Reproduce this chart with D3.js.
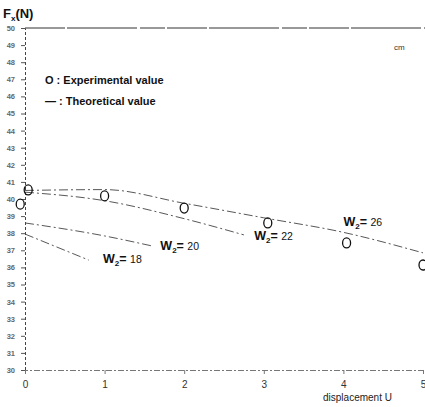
<!DOCTYPE html>
<html>
<head>
<meta charset="utf-8">
<script src="https://cdn.jsdelivr.net/npm/d3@7/dist/d3.min.js"></script>
<style>
  html, body { margin: 0; padding: 0; background: #fff; }
  svg { display: block; font-family: "Liberation Sans", Arial, sans-serif; }
</style>
</head>
<body>
<svg id="chart" width="425" height="407"></svg>
<script>
// Tick labels
const xTicks = [0, 1, 2, 3, 4, 5];
const yTicks = d3.range(30, 51);

// Measured points (displacement U in cm, force Fx in N)
const expU = [0.04, -0.06, 1, 2, 3.05, 4.04, 5];
const expF = [40.53, 39.7, 40.18, 39.47, 38.6, 37.43, 36.14];

// Theoretical curves, one per W2
const seriesW = [26, 22, 20, 18];
const curveU = [
  [0, 1, 2, 3, 4, 5],
  [0, 1, 2, 2.75],
  [0, 1, 1.6],
  [0, 0.8]
];
const curveF = [
  [40.5, 40.55, 39.75, 38.9, 38.05, 36.85],
  [40.4, 39.9, 38.85, 37.9],
  [38.6, 37.84, 37.25],
  [37.95, 36.43]
];
// where each W2 label sits (data coordinates)
const labelU = [4.0, 2.88, 1.7, 0.98];
const labelF = [38.4, 37.6, 37.0, 36.28];

const svg = d3.select("#chart");
const x = d3.scaleLinear().domain([0, 5]).range([25, 423]);
const y = d3.scaleLinear().domain([30, 50]).range([370, 28]);

// frame: top rule
svg.append("line")
  .attr("x1", x(0)).attr("x2", 425)
  .attr("y1", y(50)).attr("y2", y(50))
  .attr("stroke", "#333").attr("stroke-width", 1)
  .attr("stroke-dasharray", "40,2,70,3,25,2");

// y axis
const yAxis = svg.append("g")
  .attr("transform", `translate(${x(0)},0)`)
  .call(d3.axisLeft(y).tickValues(yTicks).tickFormat(d3.format("d")).tickSize(4).tickPadding(6));
yAxis.select(".domain").attr("stroke", "#444").attr("stroke-dasharray", "3,2");
yAxis.selectAll(".tick line").attr("stroke", "#555");
yAxis.selectAll(".tick text")
  .attr("font-size", 7.5).attr("font-weight", "bold").attr("fill", "#666");

// x axis
const xAxis = svg.append("g")
  .attr("transform", `translate(0,${y(30)})`)
  .call(d3.axisBottom(x).tickValues(xTicks).tickFormat(d3.format("d")).tickSize(4).tickPadding(7));
xAxis.select(".domain").attr("stroke", "#777").attr("stroke-dasharray", "6,2,2,2");
xAxis.selectAll(".tick line").attr("stroke", "#777");
xAxis.selectAll(".tick text").attr("font-size", 10).attr("fill", "#333");

// theoretical curves
const line = d3.line().curve(d3.curveMonotoneX);
seriesW.forEach((w, i) => {
  const pts = curveU[i].map((u, j) => [x(u), y(curveF[i][j])]);
  svg.append("path")
    .attr("d", line(pts))
    .attr("fill", "none")
    .attr("stroke", "#444")
    .attr("stroke-width", 0.9)
    .attr("stroke-dasharray", "9,3,2,3");

  const t = svg.append("text")
    .attr("x", x(labelU[i])).attr("y", y(labelF[i]))
    .attr("font-size", 12.5).attr("font-weight", "bold").attr("fill", "#111");
  t.append("tspan").text("W");
  t.append("tspan").attr("font-size", 8).attr("dy", 3).text("2");
  t.append("tspan").attr("dy", -3).attr("font-size", 12.5).text("= ");
  t.append("tspan").attr("font-size", 10.5).attr("font-weight", "normal").text(w);
});

// experimental points
svg.append("g").selectAll("ellipse")
  .data(expU.map((u, i) => [u, expF[i]]))
  .join("ellipse")
  .attr("cx", d => x(d[0])).attr("cy", d => y(d[1]))
  .attr("rx", 4).attr("ry", 5)
  .attr("fill", "none").attr("stroke", "#111").attr("stroke-width", 1.3);

// legend
svg.append("text").attr("x", 45).attr("y", 84)
  .attr("font-size", 11).attr("font-weight", "bold").attr("fill", "#111")
  .text("O : Experimental value");
svg.append("text").attr("x", 45).attr("y", 105)
  .attr("font-size", 11).attr("font-weight", "bold").attr("fill", "#111")
  .text("— : Theoretical value");

// unit note
svg.append("text").attr("x", 394).attr("y", 50)
  .attr("font-size", 8).attr("fill", "#333").text("cm");

// axis titles
const yt = svg.append("text").attr("x", 3).attr("y", 18)
  .attr("font-size", 13).attr("font-weight", "bold").attr("fill", "#111");
yt.append("tspan").text("F");
yt.append("tspan").attr("font-size", 8).attr("dy", 3).text("x");
yt.append("tspan").attr("dy", -3).text("(N)");

svg.append("text").attr("x", 323).attr("y", 401)
  .attr("font-size", 10).attr("fill", "#222").text("displacement  U");
</script>
</body>
</html>
